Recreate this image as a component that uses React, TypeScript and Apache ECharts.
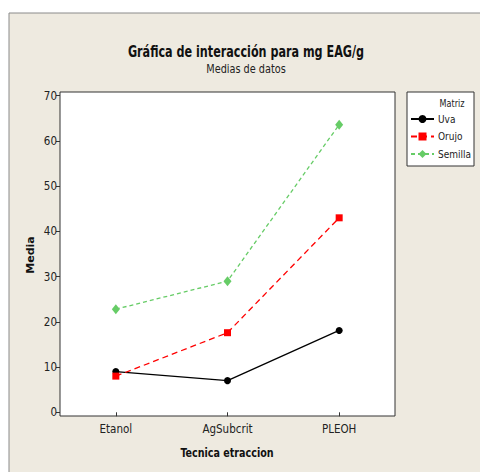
import React, { useEffect, useRef } from "react";
import * as echarts from "echarts";

const categories = ["Etanol", "AgSubcrit", "PLEOH"];
const uva = [9.0, 7.0, 18.1];
const orujo = [8.0, 17.6, 43.0];
const semilla = [22.8, 29.0, 63.6];
const seriesNames = ["Uva", "Orujo", "Semilla"];

const NARROW = '"Liberation Sans Narrow", "DejaVu Sans Condensed", "Open Sans", sans-serif';

export default function App() {
  const ref = useRef<HTMLDivElement>(null);
  useEffect(() => {
    if (!ref.current) return;
    const chart = echarts.init(ref.current, undefined, { renderer: "svg" });
    const option = {
      animation: false,
      backgroundColor: "#ffffff",
      graphic: [
        { type: "rect", z: -10, shape: { x: 9, y: 13, width: 480, height: 470 }, style: { fill: "#EEEAE0", stroke: "#8a8a8a", lineWidth: 1 } },
        { type: "rect", z: -5, shape: { x: 60, y: 92, width: 335, height: 324 }, style: { fill: "#ffffff", stroke: "#333333", lineWidth: 1 } },
        { type: "rect", z: -5, shape: { x: 407, y: 92, width: 67, height: 74 }, style: { fill: "#ffffff", stroke: "#333333", lineWidth: 1 } },
        { type: "text", x: 246, y: 52, scaleX: 0.83, style: { text: "Gráfica de interacción para mg EAG/g", font: "bold 15px " + NARROW, fill: "#111", textAlign: "center", textVerticalAlign: "middle" } },
        { type: "text", x: 246, y: 69, scaleX: 0.9, style: { text: "Medias de datos", font: "12px " + NARROW, fill: "#222", textAlign: "center", textVerticalAlign: "middle" } },
        { type: "text", x: 30, y: 255, rotation: Math.PI / 2, style: { text: "Media", font: "bold 11px 'DejaVu Sans', sans-serif", fill: "#111", textAlign: "center", textVerticalAlign: "middle" } },
        { type: "text", x: 227, y: 453, scaleX: 0.82, style: { text: "Tecnica etraccion", font: "bold 13px " + NARROW, fill: "#111", textAlign: "center", textVerticalAlign: "middle" } },
        { type: "text", x: 452, y: 103, scaleX: 0.9, style: { text: "Matriz", font: "10px " + NARROW, fill: "#222", textAlign: "center", textVerticalAlign: "middle" } },
      ],
      legend: {
        orient: "vertical",
        left: 410,
        top: 114,
        itemWidth: 23,
        itemHeight: 10,
        itemGap: 7.5,
        padding: 0,
        textStyle: { fontFamily: NARROW, fontSize: 10, color: "#222", padding: [0, 0, 0, -1] },
        data: seriesNames,
      },
      grid: { left: 60, right: 85, top: 95.7, bottom: 59.7, containLabel: false },
      xAxis: {
        type: "category",
        data: categories,
        boundaryGap: true,
        offset: 3.7,
        axisLine: { show: false },
        axisTick: { show: true, alignWithLabel: true, length: 4, lineStyle: { color: "#333" } },
        axisLabel: { fontFamily: NARROW, fontSize: 11.5, color: "#222", margin: 7 },
        splitLine: { show: false },
      },
      yAxis: {
        type: "value",
        min: 0,
        max: 70,
        interval: 10,
        axisLine: { show: false },
        axisTick: { show: true, length: 4, lineStyle: { color: "#333" } },
        axisLabel: { fontFamily: NARROW, fontSize: 11.5, color: "#222", margin: 3 },
        splitLine: { show: false },
      },
      series: [
        {
          name: seriesNames[0], type: "line", data: uva, symbol: "circle", symbolSize: 7,
          itemStyle: { color: "#000000" }, lineStyle: { color: "#000000", width: 1.3, type: "solid" },
        },
        {
          name: seriesNames[1], type: "line", data: orujo, symbol: "rect", symbolSize: 7,
          itemStyle: { color: "#FF0000" }, lineStyle: { color: "#FF0000", width: 1.3, type: [6, 4] },
        },
        {
          name: seriesNames[2], type: "line", data: semilla, symbol: "diamond", symbolSize: [8, 10],
          itemStyle: { color: "#66CC66" }, lineStyle: { color: "#66CC66", width: 1.3, type: [4, 3] },
        },
      ],
    };
    chart.setOption(option as any);
    return () => chart.dispose();
  }, []);
  return <div ref={ref} style={{ position: "absolute", left: 0, top: 0, width: 480, height: 472 }} />;
}
